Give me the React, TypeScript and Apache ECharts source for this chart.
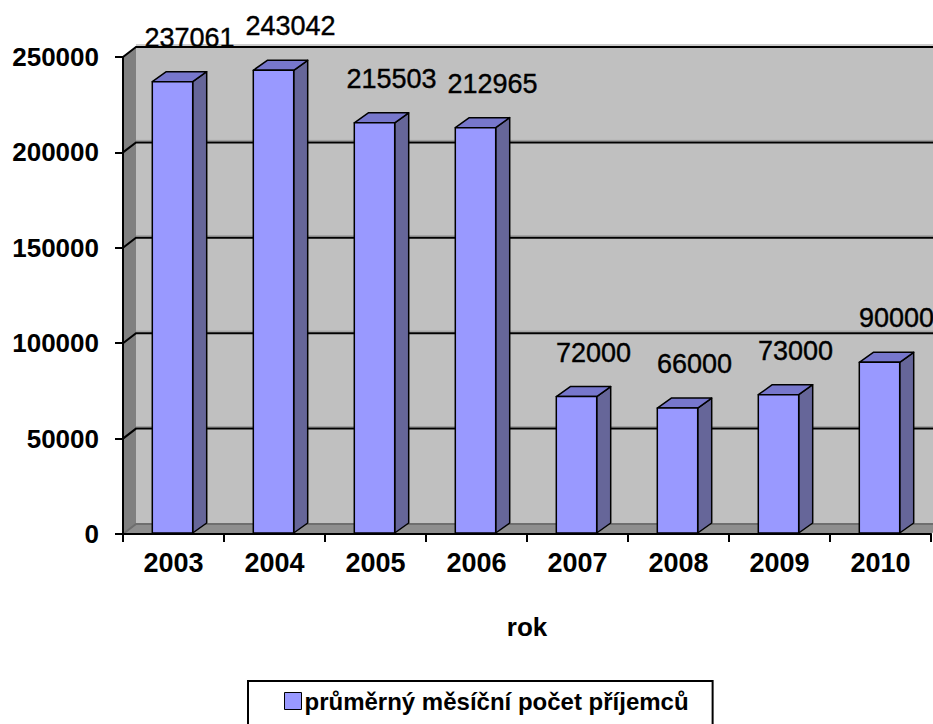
import React, { useEffect, useRef } from "react";
import * as echarts from "echarts";

const years = ["2003", "2004", "2005", "2006", "2007", "2008", "2009", "2010"];
const recipients = [237061, 243042, 215503, 212965, 72000, 66000, 73000, 90000];
const yTicks = [0, 50000, 100000, 150000, 200000, 250000];
const seriesName = "průměrný měsíční počet příjemců";
const xAxisName = "rok";

const FONT = '"Liberation Sans", Arial, sans-serif';
const WALL_DX = 13;
const WALL_DY = -10;
const BAR_DX = 14;
const BAR_DY = -10;

export default function App() {
  const ref = useRef<HTMLDivElement>(null);

  useEffect(() => {
    if (!ref.current) return;
    const chart = echarts.init(ref.current, undefined, { renderer: "svg" });

    const wallsRender = (params: any, api: any) => {
      const cs = params.coordSys;
      const x0 = cs.x, y0 = cs.y, w = cs.width, h = cs.height;
      const children: any[] = [
        {
          type: "rect",
          shape: { x: x0 + WALL_DX, y: y0 + WALL_DY, width: w, height: h },
          style: { fill: "#c0c0c0" },
        },
        {
          type: "polygon",
          shape: { points: [[x0, y0], [x0 + WALL_DX, y0 + WALL_DY], [x0 + WALL_DX, y0 + h + WALL_DY], [x0, y0 + h]] },
          style: { fill: "#808080" },
        },
        {
          type: "polygon",
          shape: { points: [[x0, y0 + h], [x0 + WALL_DX, y0 + h + WALL_DY], [x0 + w + WALL_DX, y0 + h + WALL_DY], [x0 + w, y0 + h]] },
          style: { fill: "#8e8e8e" },
        },
      ];
      yTicks.forEach((t) => {
        const y = api.coord([0, t])[1];
        if (t !== 0) {
          children.push({
            type: "line",
            shape: { x1: x0 + WALL_DX, y1: y + WALL_DY - 2, x2: x0 + w + WALL_DX, y2: y + WALL_DY - 2 },
            style: { stroke: "#9a9a9a", lineWidth: 1 },
          });
        }
        children.push({
          type: "polyline",
          shape: { points: [[x0, y], [x0 + WALL_DX, y + WALL_DY], [x0 + w + WALL_DX, y + WALL_DY]] },
          style: { fill: "none", stroke: t === 0 ? "#6e6e6e" : "#000", lineWidth: 2 },
        });
      });
      return { type: "group", children };
    };

    const barRender = (params: any, api: any) => {
      const i = api.value(0);
      const v = api.value(1);
      const top = api.coord([i, v]);
      const bot = api.coord([i, 0]);
      const bw = api.size([1, 0])[0] * 0.4;
      const xl = top[0] - bw / 2 - 1;
      const xr = xl + bw;
      const yt = top[1];
      const yb = bot[1] - 1;
      const stroke = { stroke: "#000", lineWidth: 1.5, lineJoin: "round" };
      return {
        type: "group",
        children: [
          {
            type: "polygon",
            shape: { points: [[xr, yt], [xr + BAR_DX, yt + BAR_DY], [xr + BAR_DX, yb + BAR_DY], [xr, yb]] },
            style: { fill: "#666699", ...stroke },
          },
          {
            type: "polygon",
            shape: { points: [[xl, yt], [xl + BAR_DX, yt + BAR_DY], [xr + BAR_DX, yt + BAR_DY], [xr, yt]] },
            style: { fill: "#7777cc", ...stroke },
          },
          {
            type: "rect",
            shape: { x: xl, y: yt, width: bw, height: yb - yt },
            style: { fill: "#9999ff", ...stroke },
          },
          {
            type: "text",
            x: top[0] + 16,
            y: yt - 44,
            style: {
              text: String(v),
              fill: "#000",
              font: `27px ${FONT}`,
              align: "center",
              verticalAlign: "middle",
              stroke: "#000",
              lineWidth: 0.4,
            },
          },
        ],
      };
    };

    chart.setOption({
      animation: false,
      backgroundColor: "#fff",
      grid: { left: 123, right: 2, top: 57, bottom: 190, containLabel: false },
      xAxis: {
        type: "category",
        data: years,
        z: 5,
        boundaryGap: true,
        axisLine: { show: true, lineStyle: { color: "#000", width: 2 } },
        axisTick: { show: true, length: 8, lineStyle: { color: "#000", width: 2 }, alignWithLabel: false },
        axisLabel: { color: "#000", fontFamily: FONT, fontSize: 27, fontWeight: "bold", margin: 15 },
        splitLine: { show: false },
        name: xAxisName,
        nameLocation: "middle",
        nameGap: 80,
        nameTextStyle: { color: "#000", fontFamily: FONT, fontSize: 26, fontWeight: "bold" },
      },
      yAxis: {
        type: "value",
        min: 0,
        max: 250000,
        interval: 50000,
        z: 5,
        axisLine: { show: true, lineStyle: { color: "#000", width: 2 } },
        axisTick: { show: true, length: 8, lineStyle: { color: "#000", width: 2 } },
        axisLabel: {
          color: "#000",
          fontFamily: FONT,
          fontSize: 26,
          fontWeight: "bold",
          margin: 24,
          formatter: (v: number) => String(v),
        },
        splitLine: { show: false },
      },
      legend: {
        show: true,
        data: [seriesName],
        left: 248,
        top: 681,
        orient: "horizontal",
        padding: [8, 24, 40, 36],
        borderColor: "#000",
        borderWidth: 2,
        icon: "rect",
        itemWidth: 17,
        itemHeight: 17,
        itemStyle: { color: "#9999ff", borderColor: "#000", borderWidth: 1 },
        textStyle: { color: "#000", fontFamily: FONT, fontSize: 24, fontWeight: "bold", padding: [0, 0, 0, -2] },
        selectedMode: false,
      },
      series: [
        {
          type: "custom",
          name: "walls",
          z: 1,
          silent: true,
          renderItem: wallsRender,
          data: [[0, 0]],
          encode: { x: 0, y: 1 },
        },
        {
          type: "custom",
          name: seriesName,
          z: 2,
          renderItem: barRender,
          itemStyle: { color: "#9999ff" },
          data: recipients.map((v, i) => [i, v]),
          encode: { x: 0, y: 1 },
        },
      ],
    });

    return () => chart.dispose();
  }, []);

  return (
    <div
      ref={ref}
      style={{ position: "fixed", left: 0, top: 0, width: 933, height: 724 }}
    />
  );
}
